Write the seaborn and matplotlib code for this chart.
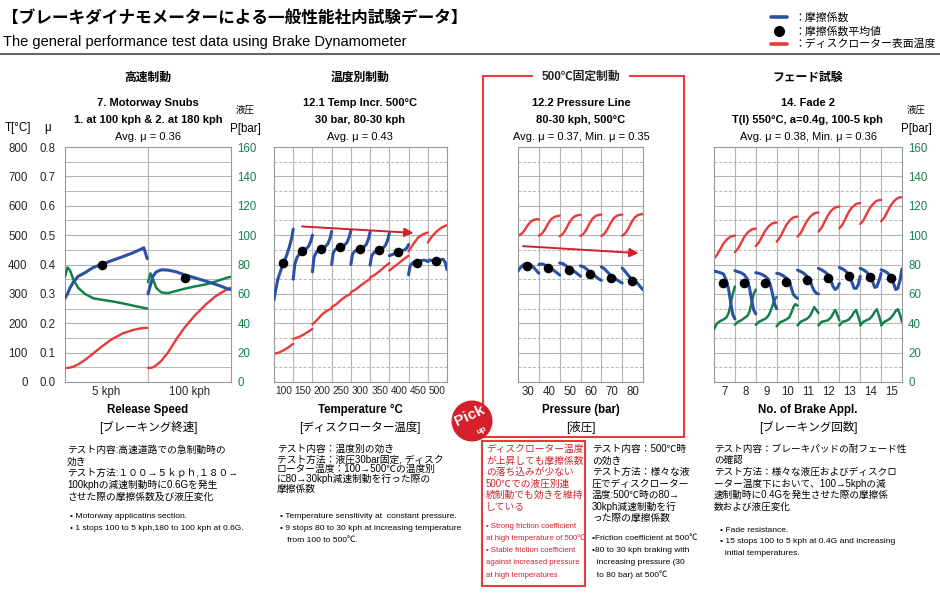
import pandas as pd
import seaborn as sns
import matplotlib.pyplot as plt
from matplotlib.patches import Rectangle, Circle
from matplotlib.lines import Line2D

sns.set_style("white")
plt.rcParams["font.family"] = ["Liberation Sans", "Noto Sans CJK JP", "DejaVu Sans"]

BLUE = "#2a51a4"
RED = "#e8393b"
GREEN = "#16804a"
GRID = "#b4b4b4"
ARROW = "#d2202a"

# ---- 7. Motorway Snubs (2 stops) ----
p1_frac = [0, 0.03, 0.06, 0.1, 0.16, 0.24, 0.34, 0.44, 0.56, 0.7, 0.82, 0.9, 0.95, 0.99]
p1_mu = [
    [0.285, 0.30, 0.32, 0.34, 0.36, 0.372, 0.39, 0.40, 0.413, 0.427, 0.44, 0.45, 0.457, 0.42],
    [0.30, 0.33, 0.36, 0.375, 0.382, 0.381, 0.375, 0.365, 0.355, 0.343, 0.332, 0.324, 0.318, 0.315],
]
p1_temp = [
    [48, 48, 49, 52, 60, 75, 97, 120, 145, 166, 177, 182, 184, 184],
    [48, 48, 50, 57, 72, 100, 145, 185, 225, 265, 293, 307, 315, 321],
]
p1_pres = [
    [72, 78, 76, 70, 64, 60, 57, 56, 55, 53.5, 52, 51, 50.5, 50],
    [68, 74, 70, 64, 61, 60.5, 62, 63.5, 65, 66.5, 68.5, 70, 71, 71.5],
]
p1_avg = [0.398, 0.353]
p1_ticks = ["5 kph", "100 kph"]

# ---- 12.1 Temp Incr. 500°C (9 stops) ----
p2_frac = [0, 0.08, 0.2, 0.35, 0.5, 0.65, 0.8, 0.92, 1.0]
p2_mu = [
    [0.28, 0.31, 0.35, 0.38, 0.405, 0.43, 0.46, 0.49, 0.52],
    [0.35, 0.40, 0.425, 0.437, 0.445, 0.452, 0.462, 0.48, 0.50],
    [0.375, 0.425, 0.442, 0.448, 0.453, 0.46, 0.47, 0.49, 0.513],
    [0.40, 0.44, 0.452, 0.456, 0.46, 0.465, 0.475, 0.495, 0.515],
    [0.40, 0.435, 0.445, 0.45, 0.453, 0.458, 0.468, 0.488, 0.51],
    [0.398, 0.43, 0.44, 0.445, 0.449, 0.455, 0.465, 0.485, 0.506],
    [0.43, 0.432, 0.435, 0.44, 0.444, 0.447, 0.45, 0.457, 0.468],
    [0.365, 0.395, 0.405, 0.41, 0.412, 0.413, 0.415, 0.413, 0.41],
    [0.41, 0.415, 0.414, 0.412, 0.413, 0.416, 0.418, 0.405, 0.382],
]
p2_tfrac = [0, 0.25, 0.5, 0.75, 1.0]
p2_temp = [
    [96, 100, 108, 118, 130],
    [147, 152, 160, 170, 181],
    [196, 212, 230, 243, 249],
    [255, 265, 280, 292, 300],
    [306, 315, 328, 340, 351],
    [356, 365, 378, 392, 405],
    [379, 392, 405, 418, 430],
    [445, 470, 492, 503, 509],
    [475, 498, 515, 527, 534],
]
p2_avg = [0.405, 0.445, 0.453, 0.46, 0.453, 0.449, 0.444, 0.405, 0.412]
p2_ticks = ["100", "150", "200", "250", "300", "350", "400", "450", "500"]

# ---- 12.2 Pressure Line (6 stops) ----
p3_frac = [0, 0.15, 0.3, 0.45, 0.6, 0.75, 0.9, 1.0]
p3_mu = [
    [0.378, 0.392, 0.401, 0.404, 0.399, 0.39, 0.378, 0.37],
    [0.40, 0.402, 0.398, 0.392, 0.386, 0.378, 0.37, 0.364],
    [0.405, 0.403, 0.396, 0.388, 0.381, 0.374, 0.366, 0.36],
    [0.395, 0.392, 0.384, 0.374, 0.366, 0.358, 0.35, 0.346],
    [0.392, 0.385, 0.374, 0.363, 0.355, 0.348, 0.341, 0.337],
    [0.388, 0.376, 0.362, 0.351, 0.343, 0.335, 0.322, 0.314],
]
p3_temp = [
    [498, 503, 515, 532, 545, 552, 554, 554],
    [498, 505, 520, 540, 555, 562, 565, 566],
    [496, 504, 520, 541, 557, 565, 568, 569],
    [497, 505, 521, 542, 558, 566, 569, 570],
    [497, 505, 521, 542, 558, 566, 569, 570],
    [498, 506, 523, 544, 560, 568, 571, 572],
]
p3_avg = [0.395, 0.387, 0.381, 0.368, 0.355, 0.345]
p3_ticks = ["30", "40", "50", "60", "70", "80"]

# ---- 14. Fade 2 (stops 7-15) ----
p4_frac = [0, 0.15, 0.3, 0.45, 0.6, 0.7, 0.8, 0.9, 1.0]
p4_mu = [
    [0.378, 0.375, 0.372, 0.368, 0.345, 0.315, 0.27, 0.23, 0.215],
    [0.379, 0.375, 0.372, 0.365, 0.35, 0.32, 0.28, 0.245, 0.232],
    [0.372, 0.37, 0.366, 0.36, 0.35, 0.33, 0.30, 0.265, 0.25],
    [0.37, 0.368, 0.362, 0.355, 0.345, 0.32, 0.298, 0.29, 0.285],
    [0.381, 0.376, 0.37, 0.36, 0.345, 0.325, 0.31, 0.302, 0.30],
    [0.387, 0.382, 0.375, 0.366, 0.345, 0.325, 0.315, 0.32, 0.335],
    [0.39, 0.385, 0.378, 0.365, 0.34, 0.32, 0.318, 0.33, 0.36],
    [0.387, 0.382, 0.375, 0.362, 0.34, 0.322, 0.325, 0.345, 0.37],
    [0.382, 0.378, 0.372, 0.36, 0.335, 0.315, 0.318, 0.345, 0.385],
]
p4_temp = [
    [421, 433, 452, 471, 484, 490, 495, 497, 498],
    [442, 454, 474, 494, 508, 514, 519, 521, 522],
    [463, 475, 495, 515, 529, 535, 540, 542, 543],
    [478, 491, 512, 533, 548, 555, 560, 562, 563],
    [495, 507, 528, 548, 562, 569, 574, 576, 577],
    [512, 525, 546, 567, 582, 589, 594, 596, 597],
    [523, 536, 557, 579, 594, 600, 606, 608, 609],
    [538, 550, 571, 591, 605, 612, 617, 619, 620],
    [547, 559, 580, 600, 614, 621, 626, 629, 629],
]
p4_pres = [
    [36, 40, 41.5, 42.5, 44, 47, 53, 60, 65],
    [39, 41, 42, 43.5, 45, 48, 54, 60, 63],
    [39, 41, 42, 43, 45, 48, 52, 56, 58],
    [38, 40.5, 41.5, 42.5, 44, 47, 51, 53, 52],
    [38.5, 41, 42, 43, 45, 48, 51, 49, 47],
    [38.5, 41, 41.5, 42, 44, 46.5, 49, 46, 42],
    [38.5, 41, 41.5, 42.5, 45, 47.5, 49, 45, 40],
    [38.5, 41, 42, 43, 45.5, 48, 49.5, 45, 40],
    [38.5, 41, 42, 43.5, 46, 48.5, 49.5, 46, 41],
]
p4_avg = [0.338, 0.336, 0.338, 0.341, 0.347, 0.355, 0.361, 0.358, 0.353]
p4_ticks = ["7", "8", "9", "10", "11", "12", "13", "14", "15"]

W, H = 940, 602
fig = plt.figure(figsize=(W / 100, H / 100), dpi=100)


def fx(x):
    return x / W


def fy(y):
    return 1 - y / H


def txt(x, y, s, size=8, ha="center", weight="normal", color="black", **kw):
    fig.text(fx(x), fy(y), s, ha=ha, va="center", fontsize=size,
             fontweight=weight, color=color, **kw)


def seg_frame(frac, rows):
    recs = []
    for i, vals in enumerate(rows):
        for f, v in zip(frac, vals):
            recs.append({"seg": i, "x": i + f, "v": v})
    return pd.DataFrame(recs)


def draw(ax, frac, rows, color, lw):
    sns.lineplot(data=seg_frame(frac, rows), x="x", y="v", units="seg",
                 estimator=None, sort=False, color=color, lw=lw, ax=ax)
    ax.set_xlabel("")
    ax.set_ylabel("")


def dots(ax, avg):
    df = pd.DataFrame({"x": [i + 0.45 for i in range(len(avg))], "v": avg})
    sns.scatterplot(data=df, x="x", y="v", color="black", s=48,
                    linewidth=0, zorder=6, ax=ax)
    ax.set_xlabel("")
    ax.set_ylabel("")


def panel(x0, x1, ticks, xsize, solid_minor):
    n = len(ticks)
    ax_t = fig.add_axes([fx(x0), fy(382), (x1 - x0) / W, 235 / H])
    ax_p = ax_t.twinx()
    ax_m = ax_t.twinx()
    ax_t.set_zorder(1)
    ax_p.set_zorder(2)
    ax_m.set_zorder(3)
    for a in (ax_p, ax_m):
        a.patch.set_visible(False)
        for sp in a.spines.values():
            sp.set_visible(False)
        a.tick_params(axis="y", which="both", length=0, left=False, right=False,
                      labelleft=False, labelright=False)
    for sp in ax_t.spines.values():
        sp.set_color("#999999")
        sp.set_linewidth(0.8)
    ax_t.set_yticks(range(0, 801, 100))
    ax_t.set_yticks(range(50, 800, 100), minor=True)
    ax_t.set_xticks([i + 0.5 for i in range(n)])
    ax_t.set_xticklabels(ticks, fontsize=xsize)
    ax_t.set_xticks(range(1, n), minor=True)
    ax_t.grid(True, which="major", axis="y", color=GRID, lw=0.8)
    ax_t.grid(True, which="minor", axis="y", color=GRID, lw=0.7,
              ls="-" if solid_minor else (0, (3, 2)))
    ax_t.grid(True, which="minor", axis="x", color=GRID, lw=0.8)
    ax_t.grid(False, which="major", axis="x")
    ax_t.tick_params(which="both", length=0)
    ax_t.tick_params(axis="x", pad=3)
    ax_t.tick_params(axis="y", labelleft=False)
    return ax_t, ax_p, ax_m, n


def limits(axes, n):
    ax_t, ax_p, ax_m = axes
    for a in axes:
        a.set_xlim(0, n)
    ax_t.set_ylim(0, 800)
    ax_p.set_ylim(0, 160)
    ax_m.set_ylim(0, 0.8)


def pressure_labels(ax_p):
    ax_p.set_yticks(range(0, 161, 20))
    ax_p.tick_params(axis="y", labelright=True, pad=4.5, labelsize=8.3,
                     labelcolor=GREEN, length=0)


# panel 1
t1, pr1, m1, n1 = panel(65, 231, p1_ticks, 8.3, True)
draw(t1, p1_frac, p1_temp, RED, 1.7)
draw(pr1, p1_frac, p1_pres, GREEN, 1.8)
draw(m1, p1_frac, p1_mu, BLUE, 2.2)
dots(m1, p1_avg)
limits((t1, pr1, m1), n1)
t1.tick_params(axis="y", labelleft=True, pad=27, labelsize=8.3)
t1.set_yticklabels([str(v) for v in range(0, 801, 100)])
m1.yaxis.set_ticks_position("left")
m1.set_yticks([v / 10 for v in range(9)])
m1.set_yticklabels([f"{v / 10:.1f}" for v in range(9)])
m1.tick_params(axis="y", left=False, labelleft=True, pad=6.5, labelsize=8.3, length=0)
pressure_labels(pr1)

# panel 2
t2, pr2, m2, n2 = panel(274, 447, p2_ticks, 7.3, False)
draw(t2, p2_tfrac, p2_temp, RED, 1.7)
draw(m2, p2_frac, p2_mu, BLUE, 2.2)
dots(m2, p2_avg)
limits((t2, pr2, m2), n2)
m2.annotate("", xy=(7.4, 0.507), xytext=(1.31, 0.53),
            arrowprops=dict(arrowstyle="-|>", color=ARROW, lw=1.4, mutation_scale=13))

# panel 3
t3, pr3, m3, n3 = panel(518, 643, p3_ticks, 8.3, False)
draw(t3, p3_frac, p3_temp, RED, 1.7)
draw(m3, p3_frac, p3_mu, BLUE, 2.2)
dots(m3, p3_avg)
limits((t3, pr3, m3), n3)
m3.annotate("", xy=(5.92, 0.438), xytext=(0.11, 0.463),
            arrowprops=dict(arrowstyle="-|>", color=ARROW, lw=1.4, mutation_scale=13))

# panel 4
t4, pr4, m4, n4 = panel(714, 902, p4_ticks, 8.3, False)
draw(t4, p4_frac, p4_temp, RED, 1.7)
draw(pr4, p4_frac, p4_pres, GREEN, 1.8)
draw(m4, p4_frac, p4_mu, BLUE, 2.2)
dots(m4, p4_avg)
limits((t4, pr4, m4), n4)
pressure_labels(pr4)

# ---- header ----
txt(2, 18, "【ブレーキダイナモメーターによる一般性能社内試験データ】", 12, "left", "bold")
txt(3, 42, "The general performance test data using Brake Dynamometer", 10.5, "left")
fig.add_artist(Line2D([0, 1], [fy(53.5)] * 2, transform=fig.transFigure,
                      color="#666666", lw=1.5))

fig.add_artist(Line2D([fx(771), fx(787)], [fy(17)] * 2, transform=fig.transFigure,
                      color=BLUE, lw=2.6))
fig.add_artist(Line2D([fx(779)], [fy(31)], transform=fig.transFigure, marker="o",
                      color="black", ms=7))
fig.add_artist(Line2D([fx(771), fx(787)], [fy(44)] * 2, transform=fig.transFigure,
                      color=RED, lw=2.6))
txt(794, 17, "：摩擦係数", 7.8, "left")
txt(794, 31, "：摩擦係数平均値", 7.8, "left")
txt(794, 44, "：ディスクローター表面温度", 7.8, "left")

# ---- panel headings ----
heads = [
    (148, "高速制動", "7. Motorway Snubs", "1. at 100 kph & 2. at 180 kph",
     "Avg. μ = 0.36", "Release Speed", "[ブレーキング終速]"),
    (360, "温度別制動", "12.1 Temp Incr. 500°C", "30 bar, 80-30 kph",
     "Avg. μ = 0.43", "Temperature °C", "[ディスクローター温度]"),
    (581, "500℃固定制動", "12.2 Pressure Line", "80-30 kph, 500°C",
     "Avg. μ = 0.37, Min. μ = 0.35", "Pressure (bar)", "[液圧]"),
    (808, "フェード試験", "14. Fade 2", "T(I) 550°C, a=0.4g, 100-5 kph",
     "Avg. μ = 0.38, Min. μ = 0.36", "No. of Brake Appl.", "[ブレーキング回数]"),
]
for cx, h, l1, l2, avg, xl, xj in heads:
    if h.startswith("500"):
        fig.text(fx(cx), fy(77), h, ha="center", va="center", fontsize=8.5,
                 fontweight="bold", zorder=5,
                 bbox=dict(fc="white", ec="none", pad=6))
    else:
        txt(cx, 78, h, 8.5, weight="bold")
    txt(cx, 103, l1, 8, weight="bold")
    txt(cx, 120, l2, 8, weight="bold")
    txt(cx, 137, avg, 8)
    txt(cx, 410, xl, 8.3, weight="bold")
    txt(cx, 428, xj, 8.3)

# axis captions
txt(18, 128, "T[°C]", 8.3)
txt(48, 128, "μ", 8.3)
txt(245, 110, "液圧", 6.8)
txt(245, 129, "P[bar]", 8.3)
txt(916, 110, "液圧", 6.8)
txt(916, 129, "P[bar]", 8.3)

# red frames and pick-up badge
fig.add_artist(Rectangle((fx(483), fy(437)), (684 - 483) / W, (437 - 76) / H,
                         transform=fig.transFigure, fill=False, ec=RED, lw=1.5, zorder=1))
fig.add_artist(Rectangle((fx(482), fy(586)), (585 - 482) / W, (586 - 441) / H,
                         transform=fig.transFigure, fill=False, ec=RED, lw=1.5, zorder=1))
fig.add_artist(Circle((4.72, (H - 421) / 100), 0.205, transform=fig.dpi_scale_trans,
                      fc="#d51f2b", ec="none", zorder=4))
fig.text(fx(470), fy(416), "Pick", ha="center", va="center", color="white",
         fontsize=11, fontweight="bold", rotation=25, zorder=5)
fig.text(fx(482), fy(431), "up", ha="center", va="center", color="white",
         fontsize=6, fontweight="bold", rotation=25, zorder=5)


def block(x, y0, dy, lines, size=7, color="black"):
    for i, s in enumerate(lines):
        txt(x, y0 + i * dy, s, size, "left", color=color)


block(67, 450, 11.6, [
    "テスト内容:高速道路での急制動時の",
    "効き",
    "テスト方法:１００→５ｋｐｈ,１８０→",
    "100kphの減速制動時に0.6Gを発生",
    "させた際の摩擦係数及び液圧変化",
])
block(70, 517, 12, [
    "• Motorway applicatins section.",
    "• 1 stops 100 to 5 kph,180 to 100 kph at 0.6G.",
], 6.1)

block(277, 449, 10, [
    "テスト内容：温度別の効き",
    "テスト方法：液圧30bar固定, ディスク",
    "ローター温度：100→500℃の温度別",
    "に80→30kph減速制動を行った際の",
    "摩擦係数",
])
block(280, 517, 12, [
    "• Temperature sensitivity at  constant pressure.",
    "• 9 stops 80 to 30 kph at increasing temperature",
    "   from 100 to 500℃.",
], 6.1)

block(486, 449, 11.6, [
    "ディスクローター温度",
    "が上昇しても摩擦係数",
    "の落ち込みが少ない",
    "500℃での液圧別連",
    "続制動でも効きを維持",
    "している",
], 7, color=ARROW)
block(486, 526, 12.3, [
    "• Strong friction coefficient",
    "at high temperature of 500℃",
    "• Stable friction coefficient",
    "against increased pressure",
    "at high temperatures",
], 5.6, color=ARROW)

block(592, 449, 11.5, [
    "テスト内容：500℃時",
    "の効き",
    "テスト方法：様々な液",
    "圧でディスクローター",
    "温度:500℃時の80→",
    "30kph減速制動を行",
    "った際の摩擦係数",
], 7)
block(592, 539, 12, [
    "•Friction coefficient at 500℃",
    "•80 to 30 kph braking with",
    "  increasing pressure (30",
    "  to 80 bar) at 500℃",
], 6.0)

block(714, 449, 11.5, [
    "テスト内容：ブレーキパッドの耐フェード性",
    "の確認",
    "テスト方法：様々な液圧およびディスクロ",
    "ーター温度下において、100→5kphの減",
    "速制動時に0.4Gを発生させた際の摩擦係",
    "数および液圧変化",
], 6.9)
block(720, 530, 11.8, [
    "• Fade resistance.",
    "• 15 stops 100 to 5 kph at 0.4G and increasing",
    "  initial temperatures.",
], 6.1)

fig.savefig("out.png", dpi=100)
